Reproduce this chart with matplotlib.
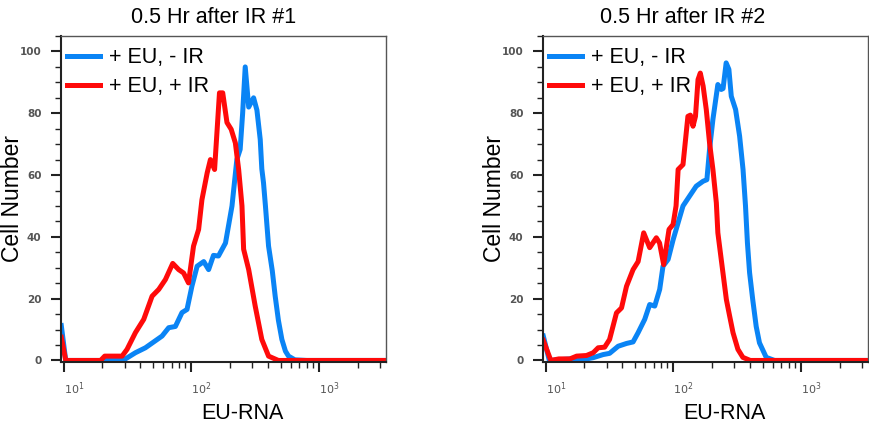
import numpy as np
import matplotlib
matplotlib.use("Agg")
import matplotlib.pyplot as plt
from matplotlib.ticker import MultipleLocator, LogLocator, NullFormatter

plt.rcParams['font.family'] = ['Liberation Sans', 'DejaVu Sans']

# EU-RNA intensity / cell count
ctrl1_x = [9.6, 10.4, 12, 18, 23, 27, 30.5, 36.5, 43.7, 52, 59, 66.5, 75, 84.5, 92.5,
           101, 111, 125, 136.5, 149, 163, 185, 208, 227, 241, 252, 264, 281, 307, 326,
           346, 356, 367, 380, 402, 430, 453, 480, 511, 545, 576, 646, 800, 3500]
ctrl1_y = [11.3, 0, 0, 0, 0, 0.2, 0.5, 2.5, 4.1, 6.3, 7.9, 10.6, 11, 15.5, 16.5,
           24, 30.5, 32, 29.4, 34, 33.8, 38, 50, 65, 68.3, 80, 95, 82, 85, 81,
           71.5, 62, 57.5, 50, 37, 29, 20.8, 13, 6.8, 3, 1.4, 0.2, 0, 0]

ir1_x = [9.6, 10.4, 15, 19.5, 21, 28.7, 31.4, 36.5, 42.4, 49.3, 55.6, 62.7, 71.5, 79.6,
         87, 95, 104, 114, 121, 133, 141, 152, 166, 176, 190, 205, 221, 234.5, 249,
         256.5, 281, 316, 356, 402, 480, 3500]
ir1_y = [7.5, 0, 0, 0, 1.4, 1.4, 3.6, 9, 13.3, 20.8, 23, 26.2, 31.4, 29.4,
         28.3, 25.1, 37, 42.4, 52, 60.7, 65, 61.8, 86.6, 86.6, 77, 74.8, 70.4, 61.8, 50,
         36, 29.4, 17.6, 6.8, 1.4, 0, 0]

ctrl2_x = [9.6, 10.7, 15.5, 21, 23.6, 28.2, 31.7, 37, 43, 48.4, 53, 59.7, 65.3, 71.5,
           78.2, 83, 91, 99.5, 109, 119, 134, 151, 171, 183, 192, 204, 223, 237, 245,
           259, 272, 284, 307, 330, 351, 367, 380, 395, 418, 445, 472, 533, 620, 3500]
ctrl2_y = [7.9, 0, 0.5, 0.5, 0.9, 1.9, 2.3, 4.6, 5.5, 6, 9, 13.3, 18.1, 17.6,
           23, 30.5, 32.7, 39, 44.6, 50, 53.2, 56.4, 58, 58.5, 68.3, 78, 89.3, 87.7, 88,
           96.3, 94.2, 85.5, 81.2, 72.6, 61.8, 50, 38, 28.4, 19.7, 11, 5.7, 1, 0, 0]

ir2_x = [9.6, 11, 12.7, 15.5, 17.5, 20.9, 23.6, 25.8, 29, 31.7, 35.9, 39.3, 43, 48.4,
         53, 58.6, 65.3, 73.6, 78, 84, 92.5, 99.5, 105, 109, 119, 130, 136, 142.5, 149,
         156, 162.5, 171, 181, 192, 204, 217, 223, 237, 260, 276, 293, 320, 350, 400, 3500]
ir2_y = [6.5, 0, 0.5, 0.5, 1.4, 1.6, 2.5, 4.1, 4.3, 6.8, 15.4, 17, 24, 29.4,
         32, 41.3, 36.5, 39.7, 38, 31, 42.4, 44, 50, 61.8, 63.4, 79, 79.4, 75.8, 79,
         90.9, 93, 88.8, 81.2, 70.4, 61.8, 51, 41.3, 32.7, 19.7, 14.3, 9, 3.6, 1, 0, 0]

titles = ['0.5 Hr after IR #1', '0.5 Hr after IR #2']
title_x = [0.468, 0.431]
labels = ['+ EU, - IR', '+ EU, + IR']
blue = '#0a84f5'
red = '#ff0a0a'

fig = plt.figure(figsize=(8.7, 4.23), dpi=100)

panels = [(61, ctrl1_x, ctrl1_y, ir1_x, ir1_y), (543, ctrl2_x, ctrl2_y, ir2_x, ir2_y)]
for i, (left, cx, cy, rx, ry) in enumerate(panels):
    ax = fig.add_axes([left / 870, 61 / 423, 325 / 870, 326 / 423])
    ax.plot(cx, cy, color=blue, lw=3.6, label=labels[0], solid_joinstyle='round')
    ax.plot(rx, ry, color=red, lw=3.6, label=labels[1], solid_joinstyle='round')

    ax.set_xscale('log')
    ax.set_xlim(9.55, 3336)
    ax.set_ylim(-0.5, 105)

    ax.set_yticks([0, 20, 40, 60, 80, 100])
    ax.yaxis.set_minor_locator(MultipleLocator(5))
    ax.set_yticklabels(['0', '20', '40', '60', '80', '100'], family='DejaVu Sans',
                       weight='bold', fontsize=7.5, color='#555555')
    ax.set_xticks([10, 100, 1000])
    ax.set_xticklabels([r'$10^{1}$', r'$10^{2}$', r'$10^{3}$'], fontsize=8,
                       color='#555555', ha='left')
    ax.xaxis.set_minor_locator(LogLocator(base=10, subs=np.arange(2, 10)))
    ax.xaxis.set_minor_formatter(NullFormatter())

    ax.tick_params(which='major', direction='out', length=7, width=1.5, color='#222222')
    ax.tick_params(which='minor', direction='out', length=4, width=1, color='#222222')
    ax.tick_params(axis='y', which='major', pad=7)
    ax.tick_params(axis='x', which='major', pad=6)
    for s in ['top', 'right']:
        ax.spines[s].set_color('#555555')
        ax.spines[s].set_linewidth(1)
    for s in ['left', 'bottom']:
        ax.spines[s].set_color('#222222')
        ax.spines[s].set_linewidth(1.5)

    ax.text(title_x[i], 1.058, titles[i], transform=ax.transAxes, ha='center',
            va='center', fontsize=15.5)
    ax.set_ylabel('Cell Number', fontsize=16.5)
    ax.yaxis.set_label_coords(-0.115, 0.5)
    ax.set_xlabel('EU-RNA', fontsize=15.5)
    ax.xaxis.set_label_coords(0.557, -0.125)

    ax.legend(loc='upper left', bbox_to_anchor=(0.018, 0.966), frameon=False,
              fontsize=15.5, handlelength=1.55, handletextpad=0.4, labelspacing=0.38,
              borderpad=0.0, borderaxespad=0.0)

fig.savefig('out.png', dpi=100)
